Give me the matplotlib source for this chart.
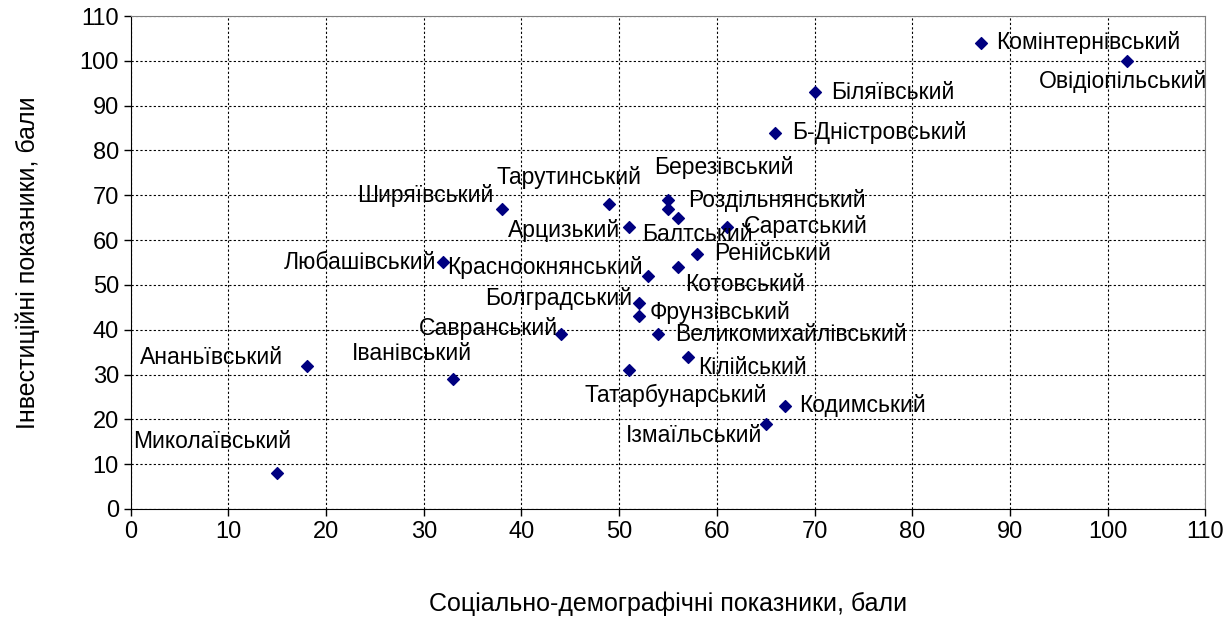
import matplotlib.pyplot as plt

plt.rcParams['font.family'] = ['Liberation Sans', 'DejaVu Sans']

# Data: district, social-demographic score (x), investment score (y)
districts = ['Комінтернівський', 'Овідіопільський', 'Біляївський', 'Б-Дністровський',
             'Березівський', 'Тарутинський', 'Роздільнянський', 'Ширяївський',
             'Арцизький', 'Балтський', 'Саратський', 'Ренійський', 'Котовський',
             'Красноокнянський', 'Любашівський', 'Болградський', 'Фрунзівський',
             'Савранський', 'Великомихайлівський', 'Кілійський', 'Татарбунарський',
             'Кодимський', 'Ізмаїльський', 'Іванівський', 'Ананьївський', 'Миколаївський']
social = [87, 102, 70, 66, 55, 49, 55, 38, 51, 56, 61, 58, 56,
          53, 32, 52, 52, 44, 54, 57, 51, 67, 65, 33, 18, 15]
invest = [104, 100, 93, 84, 69, 68, 67, 67, 63, 65, 63, 57, 54,
          52, 55, 46, 43, 39, 39, 34, 31, 23, 19, 29, 32, 8]

# label placement: (ha, dx px, dy px downward)
placement = {
    'Комінтернівський': ('left', 16, 0),
    'Овідіопільський': ('center', -4, 21),
    'Біляївський': ('left', 17, 0),
    'Б-Дністровський': ('left', 17, 0),
    'Березівський': ('center', 56, -32),
    'Тарутинський': ('center', -40, -27),
    'Роздільнянський': ('left', 20, -8),
    'Ширяївський': ('right', -8, -13),
    'Арцизький': ('right', -9, 4),
    'Балтський': ('center', 20, 17),
    'Саратський': ('left', 17, 0),
    'Ренійський': ('left', 17, 0),
    'Котовський': ('center', 67, 18),
    'Красноокнянський': ('right', -6, -8),
    'Любашівський': ('right', -7, 0),
    'Болградський': ('right', -6, -4),
    'Фрунзівський': ('left', 11, -4),
    'Савранський': ('right', -3, -6),
    'Великомихайлівський': ('left', 17, 0),
    'Кілійський': ('left', 11, 11),
    'Татарбунарський': ('center', 47, 25),
    'Кодимський': ('left', 14, 0),
    'Ізмаїльський': ('right', -3, 12),
    'Іванівський': ('center', -41, -26),
    'Ананьївський': ('right', -23, -8),
    'Миколаївський': ('center', -65, -32),
}

fig = plt.figure(figsize=(12.31, 6.30), dpi=100)
ax = fig.add_axes([0.1062, 0.1921, 0.8729, 0.7825])

ax.scatter(social, invest, marker='D', s=36, color='#000080', zorder=3, clip_on=False)

for name, x, y in zip(districts, social, invest):
    ha, dx, dy = placement[name]
    ax.annotate(name, (x, y), xytext=(dx, -dy), textcoords='offset pixels',
                ha=ha, va='center', fontsize=16.5, zorder=4)

ax.set_xlim(0, 110)
ax.set_ylim(0, 110)
ax.set_xticks(range(0, 111, 10))
ax.set_yticks(range(0, 111, 10))
ax.tick_params(labelsize=17, direction='out', length=5, width=1, colors='black')
ax.grid(True, color='black', linestyle=(0, (2, 2)), linewidth=0.8)
ax.set_axisbelow(True)

for side in ['top', 'right']:
    ax.spines[side].set_color('#808080')
for side in ['left', 'bottom']:
    ax.spines[side].set_color('black')

ax.set_xlabel('Соціально-демографічні показники, бали', fontsize=18)
ax.set_ylabel('Інвестиційні показники, бали', fontsize=18)
ax.xaxis.set_label_coords(0.5, -0.193)
ax.xaxis.label.set_va('center')
ax.yaxis.set_label_coords(-0.0956, 0.5)
ax.yaxis.label.set_va('center')

plt.savefig('out.png', dpi=100)
plt.close()
